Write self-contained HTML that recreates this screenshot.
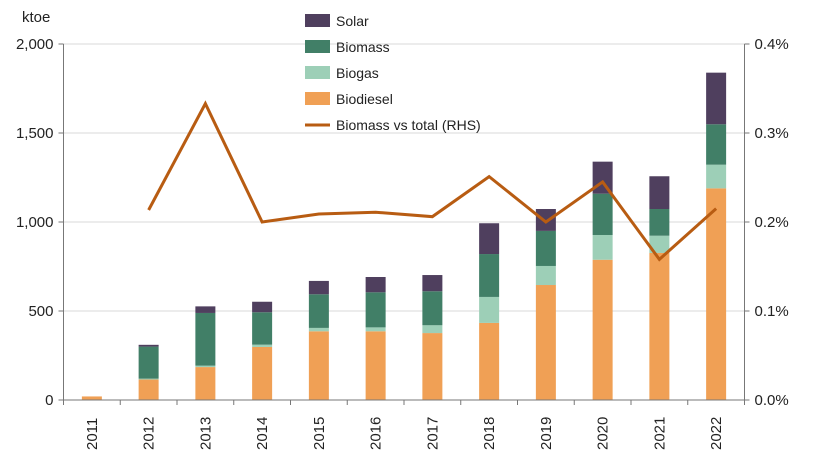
<!DOCTYPE html>
<html><head><meta charset="utf-8"><style>
body{margin:0;background:#fff;font-family:"Liberation Sans",sans-serif}
svg text{font-family:"Liberation Sans",sans-serif;fill:#222}
</style></head><body>
<svg id="c" width="813" height="458" xmlns="http://www.w3.org/2000/svg"></svg>
<script>
const years=["2011","2012","2013","2014","2015","2016","2017","2018","2019","2020","2021","2022"];
const biodiesel=[20,115,185,298,386,386,376,433,646,788,826,1189];
const biogas=[0,5,8,13,19,22,44,146,107,139,97,133];
const biomass=[0,180,296,182,189,197,191,241,197,232,150,227];
const solar=[0,10,37,59,75,86,91,173,123,180,184,290];
const share=[null,0.2135,0.333,0.200,0.209,0.211,0.206,0.251,0.200,0.245,0.158,0.215];
const leftTicks=[0,500,1000,1500,2000];
const leftLabels=["0","500","1,000","1,500","2,000"];
const rightTicks=[0,0.1,0.2,0.3,0.4];
const rightLabels=["0.0%","0.1%","0.2%","0.3%","0.4%"];

const NS="http://www.w3.org/2000/svg",svg=document.getElementById('c');
const x0=63.5,x1=744.5,y0=400,yTop=44;
const step=(x1-x0)/years.length;
const yL=v=>y0-v/2000*(y0-yTop);
const yR=v=>y0-v/0.4*(y0-yTop);
const xC=i=>x0+step*(i+0.5);
function el(t,a,p){const e=document.createElementNS(NS,t);for(const k in a)e.setAttribute(k,a[k]);(p||svg).appendChild(e);return e;}

leftTicks.forEach((v,i)=>{
  if(v>0){const g=el('line',{x1:x0,x2:x1,y1:yL(v),y2:yL(v),stroke:'#d9d9d9','stroke-width':1});
  
  }
  const t=el('text',{x:x0-10,y:yL(v)+5,'text-anchor':'end','font-size':15});t.textContent=leftLabels[i];
  
  
  el('line',{x1:x0-5,x2:x0,y1:yL(v),y2:yL(v),stroke:'#777'});
});
rightTicks.forEach((v,i)=>{
  const t=el('text',{x:x1+10,y:yR(v)+5,'font-size':15});t.textContent=rightLabels[i];
  
  
  el('line',{x1:x1,x2:x1+5,y1:yR(v),y2:yR(v),stroke:'#777'});
});
const yt=el('text',{x:22,y:22,'font-size':15});yt.textContent='ktoe';



const series=[[biodiesel,'#f0a055','biodiesel'],[biogas,'#9dcfb7','biogas'],[biomass,'#417f67','biomass'],[solar,'#4f3f5e','solar']];
years.forEach((yr,i)=>{
  let acc=0;
  series.forEach(([arr,col,nm])=>{
    const v=arr[i];if(v<=0)return;
    const r=el('rect',{x:xC(i)-10,y:yL(acc+v),width:20,height:yL(acc)-yL(acc+v),fill:col});
    
    
    acc+=v;
  });
  const t=el('text',{transform:`translate(${xC(i)+5},${y0+50}) rotate(-90)`,'font-size':15});t.textContent=yr;
  
  
});
el('line',{x1:x0,x2:x1,y1:y0,y2:y0,stroke:'#777'});
el('line',{x1:x0,x2:x0,y1:yTop,y2:y0,stroke:'#777'});
el('line',{x1:x1,x2:x1,y1:yTop,y2:y0,stroke:'#777'});
for(let i=0;i<=years.length;i++)el('line',{x1:x0+step*i,x2:x0+step*i,y1:y0,y2:y0+5,stroke:'#777'});

let d='';share.forEach((v,i)=>{if(v==null)return;d+=(d?'L':'M')+xC(i)+','+yR(v);});
const ln=el('path',{d:d,fill:'none',stroke:'#b85c12','stroke-width':3,'stroke-linejoin':'miter'});



const leg=[['Solar','#4f3f5e'],['Biomass','#417f67'],['Biogas','#9dcfb7'],['Biodiesel','#f0a055'],['Biomass vs total (RHS)',null]];
leg.forEach(([n,c],i)=>{
  const y=20+i*26;
  const g=el('g',{});
  
  
  if(c)el('rect',{x:305,y:y-6,width:25,height:13,fill:c},g);
  else el('line',{x1:305,x2:330,y1:y+1,y2:y+1,stroke:'#b85c12','stroke-width':3},g);
  const t=el('text',{x:336,y:y+6,'font-size':14},g);t.textContent=n;
});
</script>
</body></html>
